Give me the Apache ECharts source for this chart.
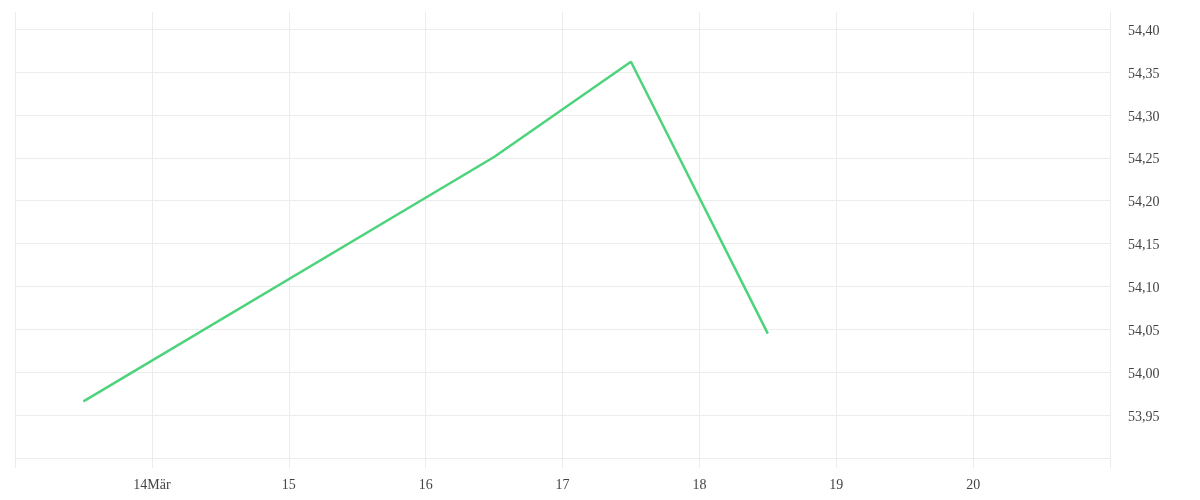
<!DOCTYPE html>
<html>
<head>
<meta charset="utf-8">
<script src="https://cdn.jsdelivr.net/npm/echarts@6/dist/echarts.min.js"></script>
<style>html,body{margin:0;padding:0;background:#fff}#c{width:1200px;height:500px}</style>
</head>
<body>
<div id="c"></div>
<script>
// Day of month (March) and values
const days = [13.5, 16.5, 17.5, 18.5];
const values = [53.966, 54.251, 54.362, 54.045];
const xTickLabels = {14: '14Mär', 15: '15', 16: '16', 17: '17', 18: '18', 19: '19', 20: '20'};
const yLabelValues = [53.95, 54.00, 54.05, 54.10, 54.15, 54.20, 54.25, 54.30, 54.35, 54.40];

const chart = echarts.init(document.getElementById('c'), null, {renderer: 'canvas'});
const gridColor = '#ececec';
const font = '"Liberation Serif", "DejaVu Serif", serif';
const yLineColors = [];
for (let i = 0; i < 11; i++) yLineColors.push(gridColor);
yLineColors.push('rgba(0,0,0,0)');

chart.setOption({
  animation: false,
  backgroundColor: '#fff',
  grid: {left: 15, right: 90, top: 12, bottom: 42, containLabel: false},
  xAxis: {
    type: 'value', min: 13, max: 21, interval: 1,
    axisLine: {show: true, lineStyle: {color: gridColor, width: 1}},
    axisTick: {show: true, length: 10, lineStyle: {color: gridColor}},
    splitLine: {show: true, lineStyle: {color: gridColor, width: 1}},
    axisLabel: {
      color: '#444', fontFamily: font, fontSize: 14, margin: 20,
      formatter: v => xTickLabels[Math.round(v)] !== undefined && Math.abs(v - Math.round(v)) < 1e-6 ? xTickLabels[Math.round(v)] : ''
    }
  },
  yAxis: {
    type: 'value', position: 'right', min: 53.90, max: 54.42, interval: 0.05,
    axisLine: {show: false}, axisTick: {show: false},
    splitLine: {show: true, lineStyle: {color: yLineColors, width: 1}},
    axisLabel: {
      color: '#444', fontFamily: font, fontSize: 14, margin: 18, verticalAlign: 'top', padding: [-5,0,0,0],
      formatter: v => {
        const m = yLabelValues.find(t => Math.abs(t - v) < 1e-6);
        return m === undefined ? '' : m.toFixed(2).replace('.', ',');
      }
    }
  },
  series: [{
    type: 'line',
    data: days.map((d, i) => [d, values[i]]),
    symbol: 'none',
    lineStyle: {color: '#4cd37b', width: 2.5},
    itemStyle: {color: '#4cd37b'}
  }]
});
</script>
</body>
</html>
